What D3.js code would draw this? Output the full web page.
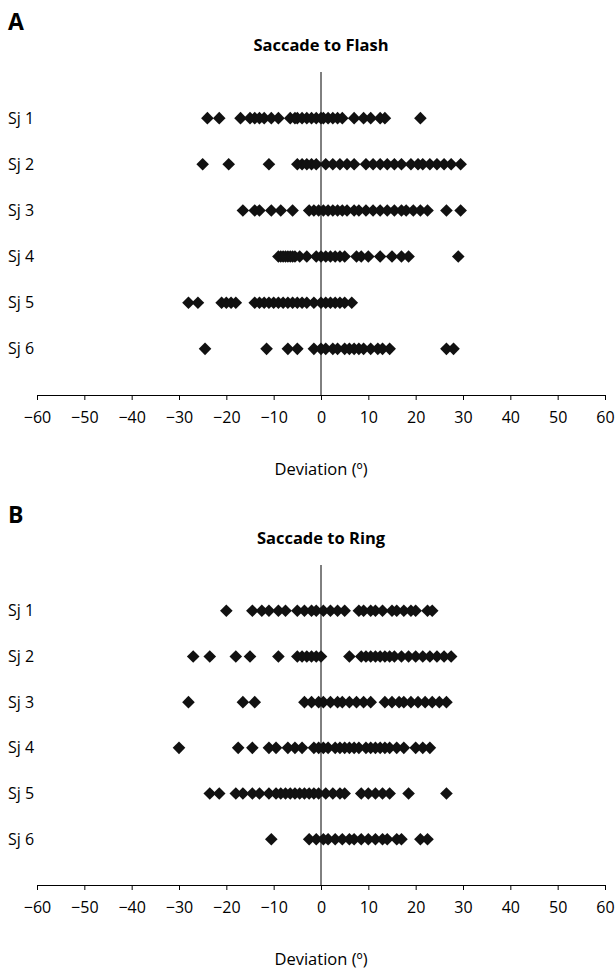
<!DOCTYPE html>
<html>
<head>
<meta charset="utf-8">
<script src="https://cdn.jsdelivr.net/npm/d3@7"></script>
<style>
  body { margin: 0; background: #fff; }
  svg { font-family: "Open Sans", "Noto Sans", sans-serif; }
</style>
</head>
<body>
<svg id="chart" width="616" height="969"></svg>
<script>
// --- Data ---
const subjects = ["Sj 1", "Sj 2", "Sj 3", "Sj 4", "Sj 5", "Sj 6"];
const xTicks = [-60, -50, -40, -30, -20, -10, 0, 10, 20, 30, 40, 50, 60];

const flashSj1 = [-24, -21.5, -17, -15, -14, -13, -12, -10.5, -9, -6.5, -5.5, -5, -4, -3, -2, -1, 0, 0.5, 1.5, 2.5, 3.5, 4.5, 7, 9, 10.5, 12.5, 13.5, 21];
const flashSj2 = [-25, -19.5, -11, -5, -4, -3, -2, -1, 1, 2.5, 4, 5.5, 7, 9.5, 11, 12.5, 14, 15.5, 17, 19, 20.5, 21.5, 23, 24.5, 26, 27.5, 29.5];
const flashSj3 = [-16.5, -14, -13, -10.5, -8.5, -6, -2.5, -1.5, -0.5, 0.5, 1.5, 2.5, 3.5, 4.5, 5.5, 7, 8, 9.5, 11, 12.5, 14, 15.5, 17, 18, 19.5, 21, 22.5, 26.5, 29.5];
const flashSj4 = [-9, -8.5, -8, -7.5, -7, -6.5, -6, -5.5, -4.5, -3, -1, 0, 1, 2, 3, 4, 5, 7.5, 8.5, 10, 12.5, 15, 17, 18.5, 29];
const flashSj5 = [-28, -26, -21, -20, -19, -18, -14, -13, -12, -11, -10, -9, -8, -7, -6, -5, -4, -3, -1.5, 0, 1, 2, 3, 4, 5, 6.5];
const flashSj6 = [-24.5, -11.5, -7, -5, -1.5, 0, 1, 2.5, 3.5, 5, 6, 7, 8, 9, 10.5, 12, 13, 14.5, 26.5, 28];

const ringSj1 = [-20, -14.5, -12.5, -11, -9, -7.5, -5, -3.5, -2, -1, 0.5, 2, 3.5, 5, 8, 9, 10.5, 11.5, 13, 15, 16, 17.5, 19, 20, 22.5, 23.5];
const ringSj2 = [-27, -23.5, -18, -15, -9, -5, -4, -3, -2, -1, 0, 6, 8.5, 9.5, 10.5, 11.5, 12.5, 13.5, 14.5, 15.5, 17, 18.5, 20, 21.5, 23, 24.5, 26, 27.5];
const ringSj3 = [-28, -16.5, -14, -3.5, -2, -0.5, 0.5, 2, 3.5, 4.5, 6, 7.5, 9, 10.5, 13.5, 15, 16.5, 17.5, 19, 20.5, 22, 23.5, 25, 26.5];
const ringSj4 = [-30, -17.5, -14.5, -11, -9.5, -7, -5.5, -4, -1.5, -0.5, 0.5, 1.5, 3, 4, 5, 6, 7, 8, 9.5, 10.5, 11.5, 12.5, 13.5, 14.5, 16, 17.5, 20, 21.5, 23];
const ringSj5 = [-23.5, -21.5, -18, -16.5, -14.5, -13, -11, -9.5, -8.5, -7.5, -6.5, -5.5, -4.5, -3.5, -2.5, -1.5, -0.5, 1, 2.5, 4, 5, 8.5, 10, 11.5, 13, 14.5, 18.5, 26.5];
const ringSj6 = [-10.5, -2.5, -1, 0.5, 1.5, 3, 4.5, 6, 7, 8.5, 10, 11.5, 13, 14, 16, 17, 21, 22.5];

const panels = [
  { letter: "A", title: "Saccade to Flash", top: 72, axisY: 395, series: [flashSj1, flashSj2, flashSj3, flashSj4, flashSj5, flashSj6] },
  { letter: "B", title: "Saccade to Ring", top: 565, axisY: 885, series: [ringSj1, ringSj2, ringSj3, ringSj4, ringSj5, ringSj6] }
];

const svg = d3.select("#chart");
const x = d3.scaleLinear().domain([-60, 60]).range([37, 605]);
const diamond = "M0,-6.3L6.3,0L0,6.3L-6.3,0Z";

panels.forEach(p => {
  const g = svg.append("g");
  // y: Sj1 at 6 ... Sj6 at 1
  const y = d3.scaleLinear().domain([0, 7]).range([p.axisY, p.top]);

  g.append("text")
    .attr("x", 8).attr("y", p.top - 42)
    .attr("font-size", 23).attr("font-weight", "bold")
    .text(p.letter);

  g.append("text")
    .attr("x", x(0)).attr("y", p.top - 21)
    .attr("text-anchor", "middle")
    .attr("font-size", 16.5).attr("font-weight", "bold")
    .text(p.title);

  // x axis
  const xAxis = d3.axisBottom(x)
    .tickValues(xTicks)
    .tickSize(5)
    .tickSizeOuter(0)
    .tickFormat(d => d < 0 ? "\u2212" + Math.abs(d) : d);
  const ax = g.append("g")
    .attr("transform", `translate(0,${p.axisY})`)
    .call(xAxis);
  ax.select(".domain").attr("stroke", "#000");
  ax.selectAll(".tick line").attr("stroke", "#000");
  ax.selectAll(".tick text")
    .attr("font-size", 16)
    .attr("font-family", "\"Open Sans\", \"Noto Sans\", sans-serif")
    .attr("fill", "#000")
    .attr("y", 14)
    .attr("dy", "0.9em");

  // vertical axis at zero
  g.append("line")
    .attr("x1", x(0)).attr("x2", x(0))
    .attr("y1", y(7)).attr("y2", y(0))
    .attr("stroke", "#000");

  // row labels
  g.selectAll(".sj")
    .data(subjects)
    .enter().append("text")
    .attr("x", 8)
    .attr("y", (d, i) => y(6 - i))
    .attr("dy", "0.35em")
    .attr("font-size", 16)
    .text(d => d);

  // points
  p.series.forEach((vals, i) => {
    g.selectAll(null)
      .data(vals)
      .enter().append("path")
      .attr("d", diamond)
      .attr("transform", d => `translate(${x(d)},${y(6 - i)})`)
      .attr("fill", "#111");
  });

  g.append("text")
    .attr("x", x(0)).attr("y", p.axisY + 80)
    .attr("text-anchor", "middle")
    .attr("font-size", 16.5)
    .text("Deviation (\u00ba)");
});
</script>
</body>
</html>
